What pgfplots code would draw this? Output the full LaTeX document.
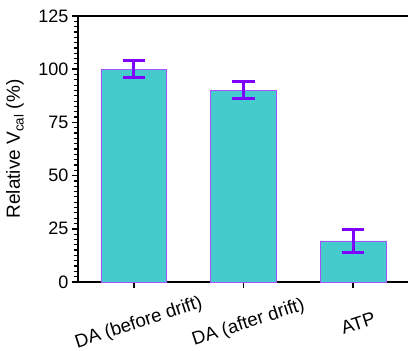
\documentclass[border=0pt]{standalone}
\usepackage{pgfplots}
\pgfplotsset{compat=1.18}
\usepackage{fontspec}
\setmainfont{Liberation Sans}
\definecolor{barfill}{RGB}{69,203,203}
\definecolor{baredge}{RGB}{170,80,255}
\definecolor{errc}{RGB}{128,0,255}
\begin{document}
\begin{tikzpicture}
\useasboundingbox (-78pt,-69pt) rectangle (330pt,282pt);
\begin{axis}[
  at={(0,0)}, anchor=south west,
  width=330pt, height=266pt, scale only axis,
  xmin=-0.509, xmax=2.5, ymin=0, ymax=125,
  axis x line*=bottom, axis y line*=left,
  clip=false,
  ytick={0,25,...,125}, minor y tick num=9,
  xtick={0,1,2},
  xticklabels={DA (before drift), DA (after drift), ATP},
  tick align=outside,
  major tick length=6pt, minor tick length=3.5pt,
  every major tick/.style={black, line width=1.5pt},
  every minor tick/.style={black, line width=1.2pt},
  axis line style={black, line width=2pt},
  tick label style={font=\fontsize{18}{21}\selectfont},
  /pgf/number format/assume math mode=true,
  xticklabel style={font=\fontsize{18.6}{21}\selectfont, yshift=-35pt, xshift=5pt, rotate=18, anchor=center},
  ylabel={Relative V\textsubscript{cal} (\%)},
  ylabel style={font=\fontsize{19}{22}\selectfont, at={(axis description cs:-0.191,0.5)}, anchor=center},
]
\addplot[ybar, bar width=0.6, fill=barfill, draw=baredge, line width=0.7pt,
  error bars/.cd, y dir=both, y explicit,
  error bar style={errc, line width=3pt},
  error mark options={rotate=90, mark size=11.3pt, line width=3pt, errc}]
  coordinates {(0,100) +- (0,4) (1,90) +- (0,4) (2,19.3) +- (0,5.5)};
\draw[black, line width=2pt] (rel axis cs:0,1) -- (rel axis cs:1,1);
\end{axis}
\end{tikzpicture}
\end{document}
